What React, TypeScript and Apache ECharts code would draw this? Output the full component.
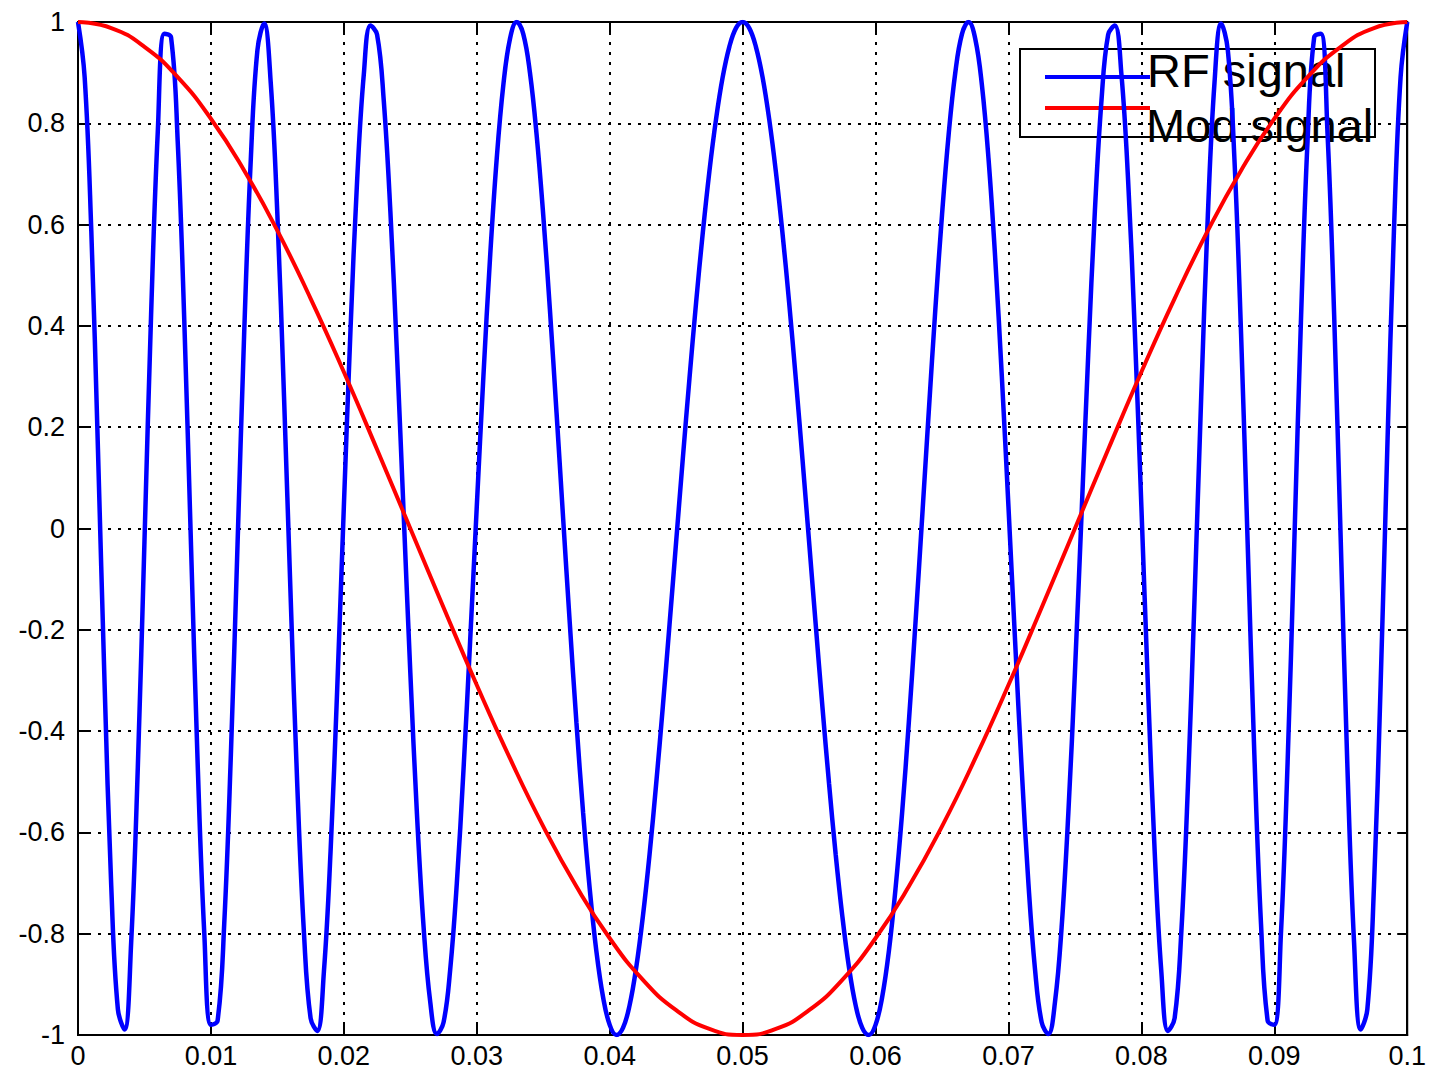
import React, { useEffect, useRef } from "react";
import * as echarts from "echarts";

// Sample spacing of each series (seconds)
const RF_STEP = 0.0005;
const MOD_STEP = 0.0025;

// RF signal values, t = 0 .. 0.1
const rfSignal = [
  1, 0.891, 0.588, 0.157, -0.307, -0.705, -0.949, -0.989, -0.817, -0.471,
  -0.026, 0.423, 0.782, 0.977, 0.970, 0.765, 0.407, -0.032, -0.462, -0.799,
  -0.980, -0.972, -0.781, -0.447, -0.033, 0.384, 0.729, 0.945, 0.997, 0.880,
  0.619, 0.260, -0.137, -0.509, -0.799, -0.967, -0.992, -0.875, -0.638, -0.317,
  0.043, 0.392, 0.688, 0.896, 0.993, 0.975, 0.846, 0.626, 0.343, 0.029,
  -0.284, -0.564, -0.787, -0.935, -0.998, -0.975, -0.871, -0.700, -0.477, -0.223,
  0.043, 0.301, 0.535, 0.730, 0.876, 0.967, 1.000, 0.976, 0.900, 0.778,
  0.619, 0.433, 0.229, 0.019, -0.188, -0.384, -0.561, -0.712, -0.835, -0.925,
  -0.980, -1.000, -0.986, -0.941, -0.866, -0.765, -0.643, -0.503, -0.351, -0.190,
  -0.026, 0.138, 0.296, 0.446, 0.583, 0.705, 0.808, 0.891, 0.951, 0.988,
  1,
  0.988, 0.951, 0.891, 0.808, 0.705, 0.583, 0.446, 0.296, 0.138, -0.026,
  -0.190, -0.351, -0.503, -0.643, -0.765, -0.866, -0.941, -0.986, -1.000, -0.980,
  -0.925, -0.835, -0.712, -0.561, -0.384, -0.188, 0.019, 0.229, 0.433, 0.619,
  0.778, 0.900, 0.976, 1.000, 0.967, 0.876, 0.730, 0.535, 0.301, 0.043,
  -0.223, -0.477, -0.700, -0.871, -0.975, -0.998, -0.935, -0.787, -0.564, -0.284,
  0.029, 0.343, 0.626, 0.846, 0.975, 0.993, 0.896, 0.688, 0.392, 0.043,
  -0.317, -0.638, -0.875, -0.992, -0.967, -0.799, -0.509, -0.137, 0.260, 0.619,
  0.880, 0.997, 0.945, 0.729, 0.384, -0.033, -0.447, -0.781, -0.972, -0.980,
  -0.799, -0.462, -0.032, 0.407, 0.765, 0.970, 0.977, 0.782, 0.423, -0.026,
  -0.471, -0.817, -0.989, -0.949, -0.705, -0.307, 0.157, 0.588, 0.891, 1,
];

// Modulating signal values, t = 0 .. 0.1
const modSignal = [
  1, 0.988, 0.951, 0.891, 0.809, 0.707, 0.588, 0.454, 0.309, 0.156,
  0, -0.156, -0.309, -0.454, -0.588, -0.707, -0.809, -0.891, -0.951, -0.988,
  -1,
  -0.988, -0.951, -0.891, -0.809, -0.707, -0.588, -0.454, -0.309, -0.156, 0,
  0.156, 0.309, 0.454, 0.588, 0.707, 0.809, 0.891, 0.951, 0.988, 1,
];

const seriesNames = ["RF signal", "Mod.signal"];
const seriesColors = ["#0000ff", "#ff0000"];

const X_MIN = 0;
const X_MAX = 0.1;
const X_INTERVAL = 0.01;
const Y_MIN = -1;
const Y_MAX = 1;
const Y_INTERVAL = 0.2;

const FONT = "'Liberation Sans', Arial, Helvetica, sans-serif";

const fmt = (v: number) => String(parseFloat(v.toFixed(3)));

export default function App() {
  const ref = useRef<HTMLDivElement>(null);

  useEffect(() => {
    if (!ref.current) return;
    const chart = echarts.init(ref.current, undefined, { renderer: "svg" });

    const rfData = rfSignal.map((v, i) => [i * RF_STEP, v]);
    const modData = modSignal.map((v, i) => [i * MOD_STEP, v]);

    const dotted = { color: "#000", width: 2, type: [3, 7] as number[] };
    const axisLine = { show: true, onZero: false, lineStyle: { color: "#000", width: 2 } };
    const tick = { show: true, inside: true, length: 10, lineStyle: { color: "#000", width: 2 } };

    chart.setOption({
      animation: false,
      backgroundColor: "#fff",
      grid: {
        left: 78,
        right: 19,
        top: 22,
        bottom: 40,
        show: true,
        borderColor: "#000",
        borderWidth: 2,
        backgroundColor: "#fff",
      },
      xAxis: [
        {
          type: "value",
          min: X_MIN,
          max: X_MAX,
          interval: X_INTERVAL,
          axisLine,
          axisTick: tick,
          axisLabel: {
            formatter: (v: number) => fmt(v),
            fontSize: 27,
            fontFamily: FONT,
            color: "#000",
            margin: 7,
          },
          splitLine: { show: true, lineStyle: dotted },
        },
        {
          type: "value",
          position: "top",
          min: X_MIN,
          max: X_MAX,
          interval: X_INTERVAL,
          axisLine,
          axisTick: tick,
          axisLabel: { show: false },
          splitLine: { show: false },
        },
      ],
      yAxis: [
        {
          type: "value",
          min: Y_MIN,
          max: Y_MAX,
          interval: Y_INTERVAL,
          axisLine,
          axisTick: tick,
          axisLabel: {
            formatter: (v: number) => fmt(v),
            fontSize: 27,
            fontFamily: FONT,
            color: "#000",
            margin: 13,
          },
          splitLine: { show: true, lineStyle: dotted },
        },
        {
          type: "value",
          position: "right",
          min: Y_MIN,
          max: Y_MAX,
          interval: Y_INTERVAL,
          axisLine,
          axisTick: tick,
          axisLabel: { show: false },
          splitLine: { show: false },
        },
      ],
      series: [
        {
          name: seriesNames[0],
          type: "line",
          xAxisIndex: 0,
          yAxisIndex: 0,
          data: rfData,
          showSymbol: false,
          smooth: 0.4,
          lineStyle: { color: seriesColors[0], width: 4.5 },
          itemStyle: { color: seriesColors[0] },
          z: 2,
        },
        {
          name: seriesNames[1],
          type: "line",
          xAxisIndex: 0,
          yAxisIndex: 0,
          data: modData,
          showSymbol: false,
          smooth: true,
          lineStyle: { color: seriesColors[1], width: 4 },
          itemStyle: { color: seriesColors[1] },
          z: 3,
        },
      ],
      graphic: [
        {
          type: "group",
          z: 100,
          children: [
            {
              type: "rect",
              shape: { x: 1020, y: 49, width: 355, height: 88 },
              style: { fill: "#fff", stroke: "#000", lineWidth: 2 },
            },
            {
              type: "line",
              shape: { x1: 1045, y1: 77, x2: 1150, y2: 77 },
              style: { stroke: seriesColors[0], lineWidth: 4 },
            },
            {
              type: "line",
              shape: { x1: 1045, y1: 108, x2: 1150, y2: 108 },
              style: { stroke: seriesColors[1], lineWidth: 4 },
            },
            {
              type: "text",
              x: 1147,
              y: 70,
              style: {
                text: seriesNames[0],
                font: `47px ${FONT}`,
                fill: "#000",
                verticalAlign: "middle",
                align: "left",
              },
            },
            {
              type: "text",
              x: 1146,
              y: 125,
              style: {
                text: seriesNames[1],
                font: `47px ${FONT}`,
                fill: "#000",
                verticalAlign: "middle",
                align: "left",
              },
            },
          ],
        },
      ],
    });

    return () => chart.dispose();
  }, []);

  return (
    <div
      ref={ref}
      style={{ position: "fixed", left: 0, top: 0, width: 1429, height: 1075 }}
    />
  );
}
